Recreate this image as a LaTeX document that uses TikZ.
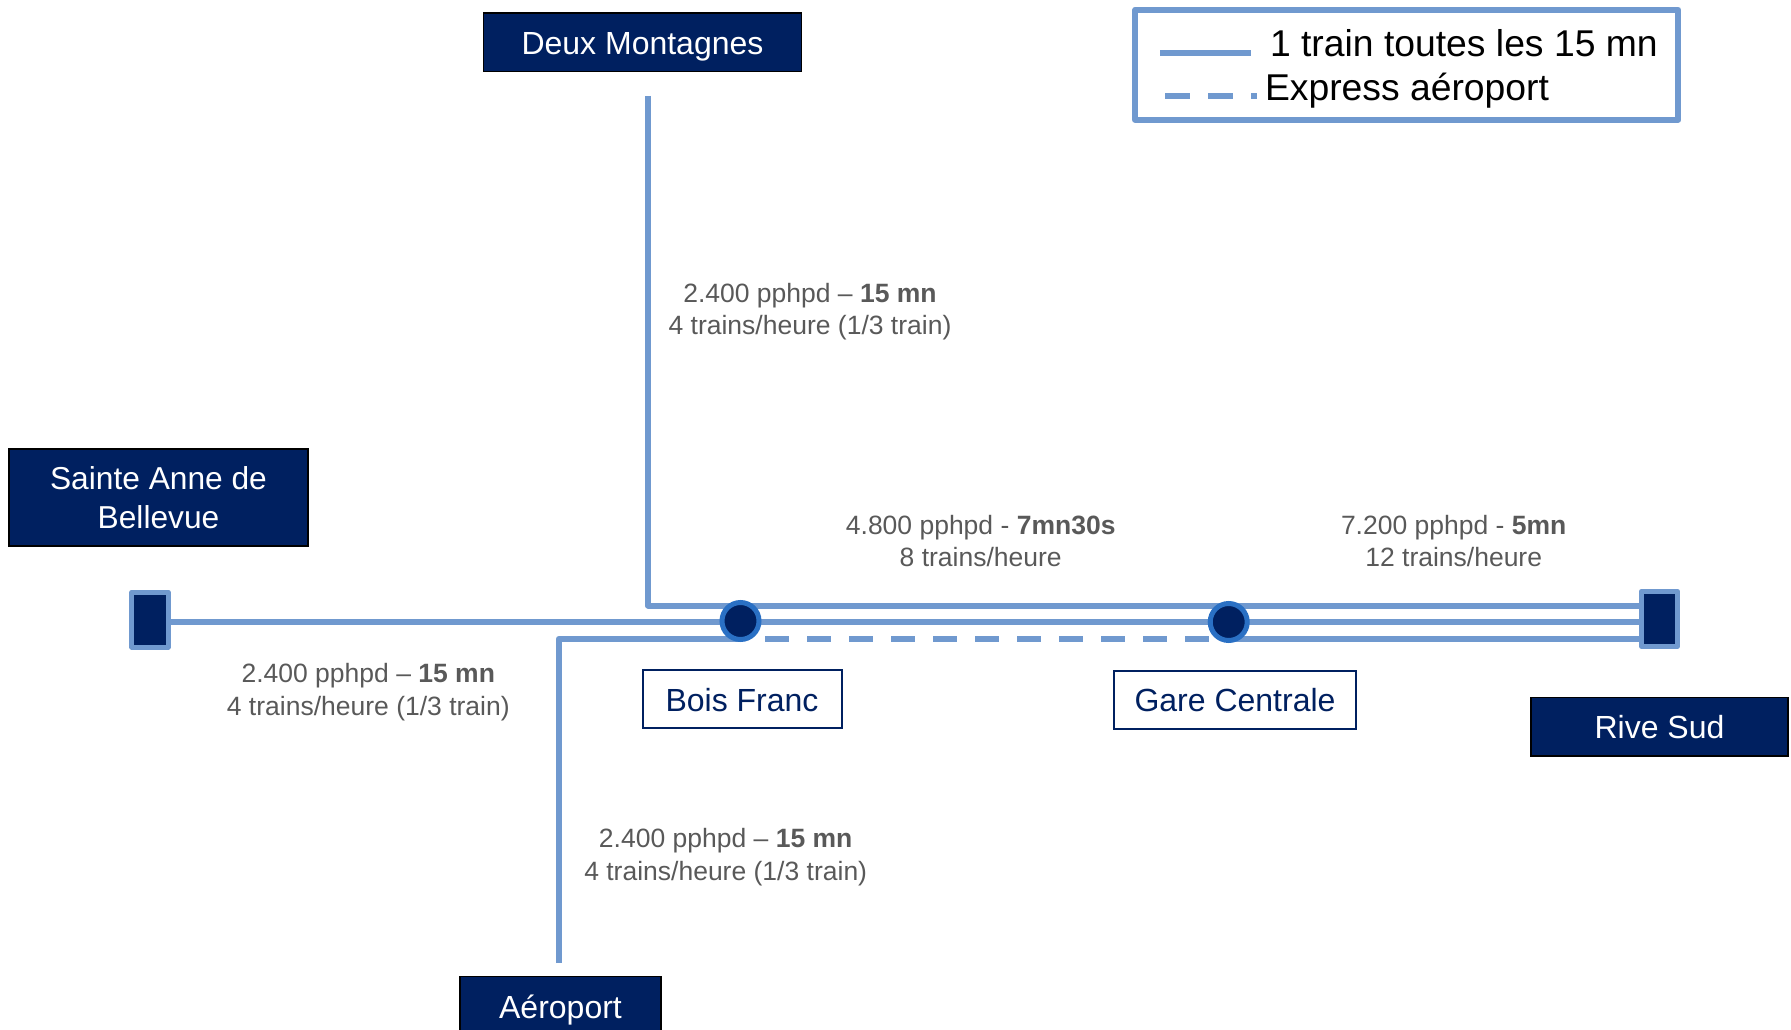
\documentclass[tikz,border=0pt]{standalone}
\usepackage{fontspec}
\setmainfont{Liberation Sans}
\usetikzlibrary{backgrounds}
\definecolor{navy}{HTML}{002060}
\definecolor{ligne}{HTML}{7099CF}
\definecolor{anneau}{HTML}{2A70C4}
\definecolor{gristexte}{HTML}{595959}
\newcommand{\fs}[1]{\fontsize{#1}{#1}\selectfont}
\tikzset{
  x=1pt,y=-1pt,
  boite/.style={rectangle,inner sep=0pt,outer sep=0pt,align=center,text height=28pt,text depth=4pt},
  sombre/.style={boite,fill=navy,draw=black,line width=1.5pt,text=white,font=\fs{32}},
  claire/.style={boite,fill=white,draw=navy,line width=2pt,text=navy,font=\fs{32}},
  info/.style={inner sep=0pt,outer sep=0pt,align=center,text=gristexte,font=\fontsize{26.5}{32.5}\selectfont},
  voie/.style={draw=ligne,line width=6pt,line join=round},
  voiept/.style={voie,dash pattern=on 24pt off 18pt},
  terminus/.style={rectangle,inner sep=0pt,outer sep=0pt,fill=navy,draw=ligne,line width=5pt,line join=round},
  gare/.style={circle,inner sep=0pt,outer sep=0pt,minimum size=37pt,fill=navy,draw=anneau,line width=5pt},
  legtexte/.style={inner sep=0pt,outer sep=0pt,anchor=base west,text=black,font=\fs{37.3}},
}
\begin{document}
\begin{tikzpicture}
\useasboundingbox (0,0) rectangle (1791,1030);
% boxes
\node[sombre,minimum width=318pt,minimum height=58.5pt] (deux) at (642.5,42.5) {Deux Montagnes};
\node[sombre,minimum width=299pt,minimum height=97pt,text height=,text depth=,font=\fontsize{31.7}{39}\selectfont] (sainte) at (158.5,497.5) {\vphantom{Ag}Sainte Anne de\\Bellevue};
\node[sombre,minimum width=201pt,minimum height=60pt] (aero) at (560.5,1006.5) {Aéroport};
\node[sombre,minimum width=257pt,minimum height=58.5pt] (rive) at (1659.5,726.5) {Rive Sud};
\node[claire,minimum width=199pt,minimum height=58pt] (bois) at (742,699) {Bois Franc};
\node[claire,minimum width=242pt,minimum height=58pt] (centrale) at (1235,699.5) {Gare Centrale};
% stations
\node[gare] (bf) at (740.5,621) {};
\node[gare] (gc) at (1228.7,622) {};
\node[terminus,minimum width=36.5pt,minimum height=55pt] (tg) at (150,619.7) {};
\node[terminus,minimum width=36pt,minimum height=55pt] (td) at (1659.5,618.7) {};
% track anchors
\coordinate (haut) at (648,605.5);
\coordinate (milieu) at (0,622);
\coordinate (bas) at (559,638.7);
\coordinate (finhaut) at (648,96);
\coordinate (finbas) at (559,963);
\begin{scope}[on background layer]
\draw[voie] (finhaut) -- (haut) -- (td.west |- haut);
\draw[voie] (tg.east |- milieu) -- (td.west |- milieu);
\draw[voie] (finbas) -- (bas) -- (bf.center |- bas);
\draw[voie] (gc.center |- bas) -- (td.west |- bas);
\end{scope}
\coordinate (dashdeb) at (765,638.7);
\draw[voiept] (dashdeb) -- (gc.west |- bas);
% info labels
\node[info] (i1) at (810,311.5) {2.400 pphpd – \textbf{15 mn}\\4 trains/heure (1/3 train)};
\node[info] (i2) at (980.7,541) {4.800 pphpd - \textbf{7mn30s}\\8 trains/heure};
\node[info] (i3) at (1453.7,541) {7.200 pphpd - \textbf{5mn}\\12 trains/heure};
\node[info] (i4) at (368.3,692.2) {2.400 pphpd – \textbf{15 mn}\\4 trains/heure (1/3 train)};
\node[info] (i5) at (725.7,857.3) {2.400 pphpd – \textbf{15 mn}\\4 trains/heure (1/3 train)};
% legend
\node[rectangle,inner sep=0pt,outer sep=0pt,draw=ligne,line width=6pt,line join=round,minimum width=543pt,minimum height=110pt] (legende) at (1406.8,64.7) {};
\coordinate (l1a) at (1160,52.7);
\coordinate (l1b) at (1251,52.7);
\coordinate (l2a) at (1165,95.7);
\coordinate (l2b) at (1257,95.7);
\draw[voie] (l1a) -- (l1b);
\draw[voie,dash pattern=on 25pt off 18pt] (l2a) -- (l2b);
\node[legtexte] (lt1) at (1270,57) {1 train toutes les 15 mn};
\node[legtexte] (lt2) at (1265,100.5) {Express aéroport};
\end{tikzpicture}
\end{document}
